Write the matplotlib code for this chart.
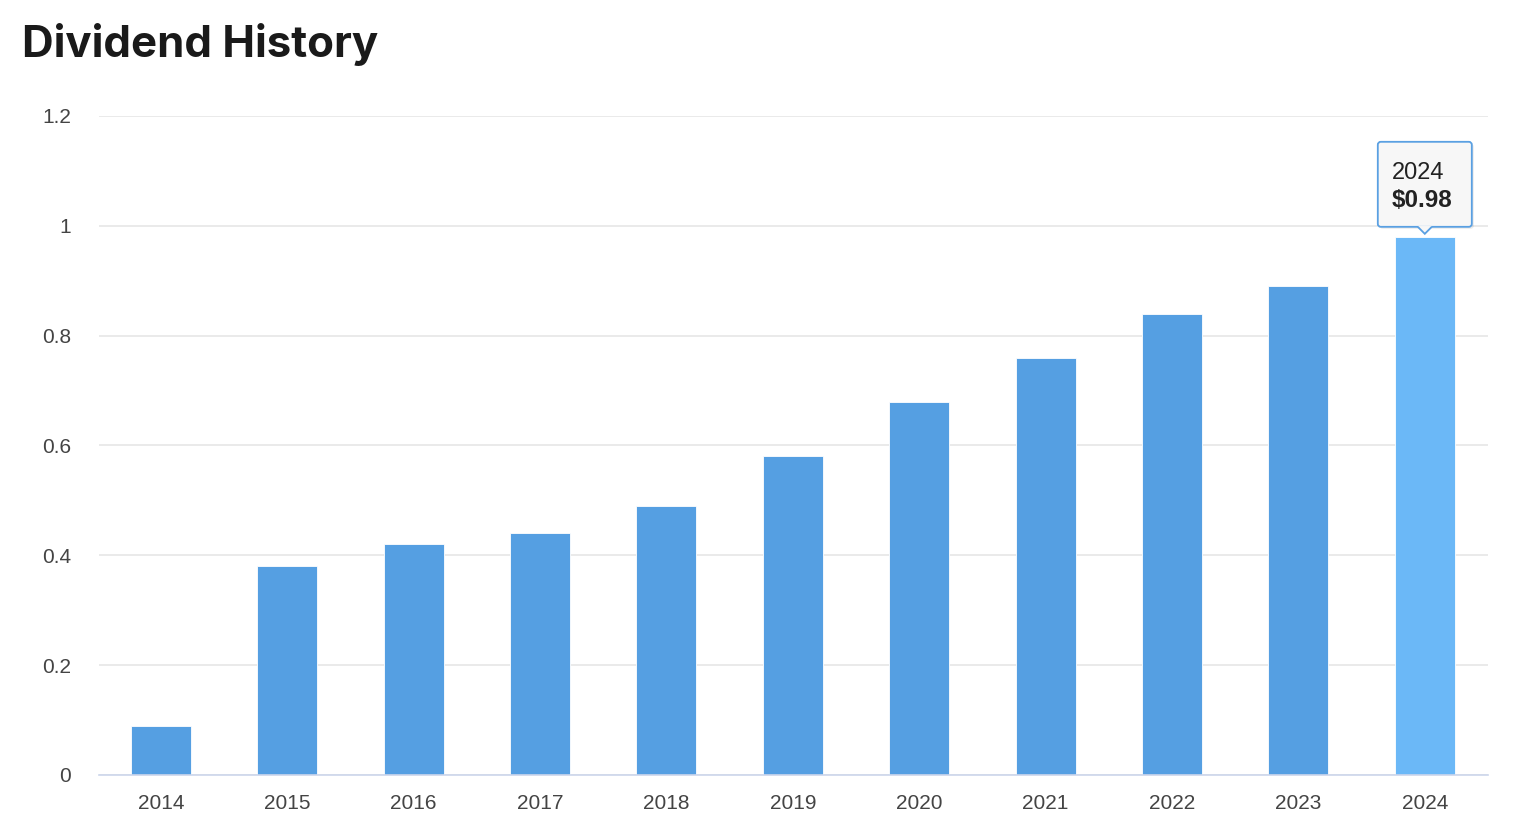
import matplotlib
matplotlib.use("Agg")
import matplotlib.pyplot as plt
from matplotlib.patches import FancyBboxPatch, Polygon
from matplotlib.transforms import IdentityTransform
from matplotlib.ticker import FuncFormatter

years = ["2014", "2015", "2016", "2017", "2018", "2019", "2020", "2021", "2022", "2023", "2024"]
dividends = [0.09, 0.38, 0.42, 0.44, 0.49, 0.58, 0.68, 0.76, 0.84, 0.89, 0.98]
y_ticks = [0, 0.2, 0.4, 0.6, 0.8, 1.0, 1.2]
highlight = len(years) - 1

bar_col = "#559fe2"
hi_col = "#6bb8f7"

fig = plt.figure(figsize=(15.2, 8.39), dpi=100)
ax = fig.add_axes([99 / 1520, 1 - 775 / 839, (1488 - 99) / 1520, (775 - 116) / 839])

x = list(range(len(years)))
cols = [hi_col if i == highlight else bar_col for i in x]
ax.bar(x, dividends, width=0.475, color=cols, edgecolor="white", linewidth=0.6, zorder=3)

ax.set_xlim(-0.49, len(years) - 0.5)
ax.set_ylim(0, 1.2)
ax.set_yticks(y_ticks)
ax.yaxis.set_major_formatter(FuncFormatter(lambda v, p: f"{v:g}"))
ax.set_xticks(x)
ax.set_xticklabels(years)
ax.grid(axis="y", color="#e6e6e6", linewidth=1.2, zorder=0)
for s in ["top", "right", "left"]:
    ax.spines[s].set_visible(False)
ax.spines["bottom"].set_color("#ccd6eb")
ax.spines["bottom"].set_linewidth(1.2)
ax.spines["bottom"].set_zorder(4)
ax.tick_params(axis="y", length=0, pad=20, labelsize=15, labelcolor="#444444")
ax.tick_params(axis="x", length=0, pad=14, labelsize=15, labelcolor="#444444")
for lab in ax.get_xticklabels() + ax.get_yticklabels():
    lab.set_fontfamily(["Liberation Sans", "DejaVu Sans"])

fig.text(22 / 1520, 1 - 45 / 839, "Dividend History", fontsize=31.5, fontweight="bold",
         family=["Inter", "DejaVu Sans"], color="#1a1a1a", va="center", ha="left")

# tooltip over highlighted bar
px, py = ax.transData.transform((highlight, dividends[highlight]))
bw, bh = 94, 85
bx = px - bw / 2
by = py + 10
ident = IdentityTransform()
shadow = FancyBboxPatch((bx + 2, by - 2), bw, bh, boxstyle="round,pad=0,rounding_size=3",
                        transform=ident, facecolor="#000000", alpha=0.08, edgecolor="none", zorder=9)
fig.patches.append(shadow)
box = FancyBboxPatch((bx, by), bw, bh, boxstyle="round,pad=0,rounding_size=3",
                     transform=ident, facecolor="#f7f7f7", edgecolor="#5aa0e2", linewidth=1.3, zorder=10)
fig.patches.append(box)
tri = Polygon([(px - 7, by + 0.8), (px + 7, by + 0.8), (px, by - 7)], closed=True,
              transform=ident, facecolor="#f7f7f7", edgecolor="none", zorder=11)
fig.patches.append(tri)
tri_edge = Polygon([(px - 7, by), (px, by - 7), (px + 7, by)], closed=False, fill=False,
                   transform=ident, edgecolor="#5aa0e2", linewidth=1.3, zorder=11)
fig.patches.append(tri_edge)
fig.text(bx + 14, by + bh - 31, years[highlight], transform=ident, fontsize=17,
         family=["Liberation Sans", "DejaVu Sans"], color="#222222", va="center", ha="left", zorder=12)
fig.text(bx + 14, by + bh - 59, f"${dividends[highlight]:.2f}", transform=ident, fontsize=17.5,
         fontweight="bold", family=["Liberation Sans", "DejaVu Sans"], color="#222222",
         va="center", ha="left", zorder=12)

fig.savefig("out.png", dpi=100)
